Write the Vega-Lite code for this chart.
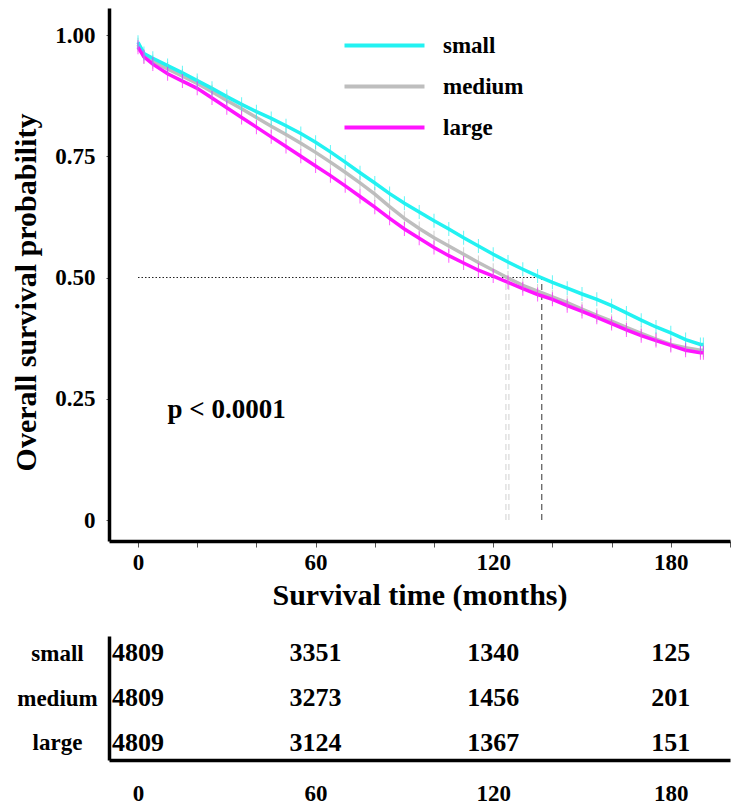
{
  "$schema": "https://vega.github.io/schema/vega-lite/v6.json",
  "padding": {"left": 11, "top": 8, "right": 5, "bottom": 0},
  "spacing": 26,
  "datasets": {
    "curves": [
      {"group": "medium", "t": 0, "s": 0.98}, {"group": "medium", "t": 2, "s": 0.955}, {"group": "medium", "t": 5, "s": 0.945},
      {"group": "medium", "t": 10, "s": 0.93}, {"group": "medium", "t": 15, "s": 0.915}, {"group": "medium", "t": 20, "s": 0.9},
      {"group": "medium", "t": 25, "s": 0.883}, {"group": "medium", "t": 30, "s": 0.865}, {"group": "medium", "t": 35, "s": 0.848},
      {"group": "medium", "t": 40, "s": 0.83}, {"group": "medium", "t": 45, "s": 0.812}, {"group": "medium", "t": 50, "s": 0.795},
      {"group": "medium", "t": 55, "s": 0.777}, {"group": "medium", "t": 60, "s": 0.758}, {"group": "medium", "t": 65, "s": 0.738},
      {"group": "medium", "t": 70, "s": 0.717}, {"group": "medium", "t": 75, "s": 0.695}, {"group": "medium", "t": 80, "s": 0.672},
      {"group": "medium", "t": 85, "s": 0.646}, {"group": "medium", "t": 90, "s": 0.622}, {"group": "medium", "t": 95, "s": 0.601},
      {"group": "medium", "t": 100, "s": 0.582}, {"group": "medium", "t": 105, "s": 0.565}, {"group": "medium", "t": 110, "s": 0.548},
      {"group": "medium", "t": 115, "s": 0.531}, {"group": "medium", "t": 120, "s": 0.515}, {"group": "medium", "t": 125, "s": 0.499},
      {"group": "medium", "t": 130, "s": 0.484}, {"group": "medium", "t": 135, "s": 0.472}, {"group": "medium", "t": 140, "s": 0.46},
      {"group": "medium", "t": 145, "s": 0.448}, {"group": "medium", "t": 150, "s": 0.435}, {"group": "medium", "t": 155, "s": 0.422},
      {"group": "medium", "t": 160, "s": 0.41}, {"group": "medium", "t": 165, "s": 0.397}, {"group": "medium", "t": 170, "s": 0.385},
      {"group": "medium", "t": 175, "s": 0.373}, {"group": "medium", "t": 180, "s": 0.362}, {"group": "medium", "t": 185, "s": 0.355},
      {"group": "medium", "t": 190, "s": 0.35}, {"group": "medium", "t": 191, "s": 0.35},
      {"group": "small", "t": 0, "s": 0.985}, {"group": "small", "t": 2, "s": 0.962}, {"group": "small", "t": 5, "s": 0.952},
      {"group": "small", "t": 10, "s": 0.937}, {"group": "small", "t": 15, "s": 0.922}, {"group": "small", "t": 20, "s": 0.906},
      {"group": "small", "t": 25, "s": 0.89}, {"group": "small", "t": 30, "s": 0.873}, {"group": "small", "t": 35, "s": 0.857},
      {"group": "small", "t": 40, "s": 0.842}, {"group": "small", "t": 45, "s": 0.828}, {"group": "small", "t": 50, "s": 0.813},
      {"group": "small", "t": 55, "s": 0.797}, {"group": "small", "t": 60, "s": 0.779}, {"group": "small", "t": 65, "s": 0.759},
      {"group": "small", "t": 70, "s": 0.738}, {"group": "small", "t": 75, "s": 0.716}, {"group": "small", "t": 80, "s": 0.695},
      {"group": "small", "t": 85, "s": 0.673}, {"group": "small", "t": 90, "s": 0.653}, {"group": "small", "t": 95, "s": 0.635},
      {"group": "small", "t": 100, "s": 0.617}, {"group": "small", "t": 105, "s": 0.6}, {"group": "small", "t": 110, "s": 0.582},
      {"group": "small", "t": 115, "s": 0.565}, {"group": "small", "t": 120, "s": 0.548}, {"group": "small", "t": 125, "s": 0.532},
      {"group": "small", "t": 130, "s": 0.517}, {"group": "small", "t": 135, "s": 0.503}, {"group": "small", "t": 140, "s": 0.49},
      {"group": "small", "t": 145, "s": 0.478}, {"group": "small", "t": 150, "s": 0.466}, {"group": "small", "t": 155, "s": 0.455},
      {"group": "small", "t": 160, "s": 0.442}, {"group": "small", "t": 165, "s": 0.427}, {"group": "small", "t": 170, "s": 0.412},
      {"group": "small", "t": 175, "s": 0.398}, {"group": "small", "t": 180, "s": 0.386}, {"group": "small", "t": 185, "s": 0.372},
      {"group": "small", "t": 190, "s": 0.362}, {"group": "small", "t": 191, "s": 0.362},
      {"group": "large", "t": 0, "s": 0.975}, {"group": "large", "t": 2, "s": 0.955}, {"group": "large", "t": 5, "s": 0.94},
      {"group": "large", "t": 10, "s": 0.92}, {"group": "large", "t": 15, "s": 0.905}, {"group": "large", "t": 20, "s": 0.89},
      {"group": "large", "t": 25, "s": 0.87}, {"group": "large", "t": 30, "s": 0.85}, {"group": "large", "t": 35, "s": 0.83},
      {"group": "large", "t": 40, "s": 0.81}, {"group": "large", "t": 45, "s": 0.79}, {"group": "large", "t": 50, "s": 0.77},
      {"group": "large", "t": 55, "s": 0.75}, {"group": "large", "t": 60, "s": 0.73}, {"group": "large", "t": 65, "s": 0.71},
      {"group": "large", "t": 70, "s": 0.689}, {"group": "large", "t": 75, "s": 0.667}, {"group": "large", "t": 80, "s": 0.645},
      {"group": "large", "t": 85, "s": 0.622}, {"group": "large", "t": 90, "s": 0.6}, {"group": "large", "t": 95, "s": 0.581},
      {"group": "large", "t": 100, "s": 0.562}, {"group": "large", "t": 105, "s": 0.545}, {"group": "large", "t": 110, "s": 0.53},
      {"group": "large", "t": 115, "s": 0.515}, {"group": "large", "t": 120, "s": 0.503}, {"group": "large", "t": 125, "s": 0.49},
      {"group": "large", "t": 130, "s": 0.477}, {"group": "large", "t": 135, "s": 0.465}, {"group": "large", "t": 140, "s": 0.455},
      {"group": "large", "t": 145, "s": 0.442}, {"group": "large", "t": 150, "s": 0.43}, {"group": "large", "t": 155, "s": 0.418},
      {"group": "large", "t": 160, "s": 0.405}, {"group": "large", "t": 165, "s": 0.392}, {"group": "large", "t": 170, "s": 0.38},
      {"group": "large", "t": 175, "s": 0.37}, {"group": "large", "t": 180, "s": 0.36}, {"group": "large", "t": 185, "s": 0.35},
      {"group": "large", "t": 190, "s": 0.345}, {"group": "large", "t": 191, "s": 0.345}
    ],
    "risk": [
      {"group": "small", "t": 0, "n": 4809}, {"group": "small", "t": 60, "n": 3351}, {"group": "small", "t": 120, "n": 1340}, {"group": "small", "t": 180, "n": 125},
      {"group": "medium", "t": 0, "n": 4809}, {"group": "medium", "t": 60, "n": 3273}, {"group": "medium", "t": 120, "n": 1456}, {"group": "medium", "t": 180, "n": 201},
      {"group": "large", "t": 0, "n": 4809}, {"group": "large", "t": 60, "n": 3124}, {"group": "large", "t": 120, "n": 1367}, {"group": "large", "t": 180, "n": 151}
    ]
  },
  "vconcat": [
    {
      "width": 621,
      "height": 533,
      "layer": [
        {
          "data": {"values": [{"x0": 0, "x1": 136.4, "y": 0.5}]},
          "mark": {"type": "rule", "color": "#222", "strokeDash": [1.5, 2], "strokeWidth": 1.2},
          "encoding": {
            "x": {"field": "x0", "type": "quantitative"},
            "x2": {"field": "x1"},
            "y": {"field": "y", "type": "quantitative"}
          }
        },
        {
          "data": {"values": [{"t": 124.3, "y0": 0, "y1": 0.5}, {"t": 125.3, "y0": 0, "y1": 0.5}]},
          "mark": {"type": "rule", "color": "#d9d9d9", "strokeDash": [6, 4], "strokeWidth": 1.2},
          "encoding": {
            "x": {"field": "t", "type": "quantitative"},
            "y": {"field": "y0", "type": "quantitative"},
            "y2": {"field": "y1"}
          }
        },
        {
          "data": {"values": [{"t": 136.4, "y0": 0, "y1": 0.5}]},
          "mark": {"type": "rule", "color": "#555", "strokeDash": [6, 4], "strokeWidth": 1.2},
          "encoding": {
            "x": {"field": "t", "type": "quantitative"},
            "y": {"field": "y0", "type": "quantitative"},
            "y2": {"field": "y1"}
          }
        },
        {
          "data": {"name": "curves"},
          "mark": {"type": "line", "strokeWidth": 3.5, "interpolate": "linear"},
          "encoding": {
            "x": {
              "field": "t", "type": "quantitative",
              "scale": {"domain": [-9.8, 200], "nice": false, "zero": false},
              "axis": {
                "title": "Survival time (months)",
                "values": [0, 20, 40, 60, 80, 100, 120, 140, 160, 180, 200],
                "labelExpr": "datum.value % 60 == 0 ? datum.label : ''",
                "tickSize": 6, "tickColor": "#555", "tickWidth": 1,
                "labelPadding": 4, "titlePadding": 6
              }
            },
            "y": {
              "field": "s", "type": "quantitative",
              "scale": {"domain": [-0.0433, 1.0557], "nice": false, "zero": false},
              "axis": {
                "title": "Overall survival probability",
                "values": [0, 0.25, 0.5, 0.75, 1],
                "labelExpr": "datum.value == 0 ? '0' : format(datum.value, '.2f')",
                "tickSize": 3, "tickColor": "#555", "tickWidth": 1,
                "labelPadding": 11, "titlePadding": 13, "titleY": 284
              }
            },
            "color": {
              "field": "group", "type": "nominal",
              "scale": {"domain": ["small", "medium", "large"], "range": ["#22F2F2", "#BEBEBE", "#FF14FF"]},
              "legend": {
                "title": null, "orient": "none", "legendX": 260, "legendY": 22,
                "symbolType": "M-3,0H3", "symbolSize": 711, "symbolStrokeWidth": 4,
                "labelFontSize": 23, "labelFontWeight": "bold", "labelFont": "Liberation Serif",
                "labelOffset": 43, "rowPadding": 13
              }
            }
          }
        },
        {
          "data": {"name": "curves"},
          "mark": {"type": "tick", "orient": "vertical", "size": 14, "thickness": 1, "opacity": 0.7},
          "encoding": {
            "x": {"field": "t", "type": "quantitative"},
            "y": {"field": "s", "type": "quantitative"},
            "color": {"field": "group", "type": "nominal", "legend": null}
          }
        },
        {
          "data": {"values": [{"t": 10, "s": 0.227, "label": "p < 0.0001"}]},
          "mark": {"type": "text", "align": "left", "baseline": "middle", "fontSize": 27, "fontWeight": "bold", "font": "Liberation Serif", "color": "black"},
          "encoding": {
            "x": {"field": "t", "type": "quantitative"},
            "y": {"field": "s", "type": "quantitative"},
            "text": {"field": "label"}
          }
        }
      ]
    },
    {
      "width": 621,
      "height": 124,
      "data": {"name": "risk"},
      "mark": {"type": "text", "fontSize": 26, "fontWeight": "bold", "font": "Liberation Serif", "color": "black"},
      "encoding": {
        "x": {
          "field": "t", "type": "quantitative",
          "scale": {"domain": [-9.8, 200], "nice": false, "zero": false},
          "axis": {"title": null, "values": [0, 60, 120, 180], "ticks": false, "labelPadding": 22}
        },
        "y": {
          "field": "group", "type": "nominal",
          "sort": ["small", "medium", "large"],
          "scale": {"type": "point", "padding": 0.378},
          "axis": {"title": null, "ticks": false, "labelPadding": 52, "labelAlign": "center", "labelFontSize": 23}
        },
        "text": {"field": "n", "type": "quantitative"}
      }
    }
  ],
  "config": {
    "font": "Liberation Serif",
    "view": {"stroke": null},
    "axis": {
      "grid": false,
      "domainColor": "black",
      "domainWidth": 3.5,
      "labelFont": "Liberation Serif",
      "labelFontSize": 23,
      "labelFontWeight": "bold",
      "labelColor": "black",
      "titleFont": "Liberation Serif",
      "titleFontSize": 30,
      "titleFontWeight": "bold",
      "titleColor": "black"
    }
  }
}
